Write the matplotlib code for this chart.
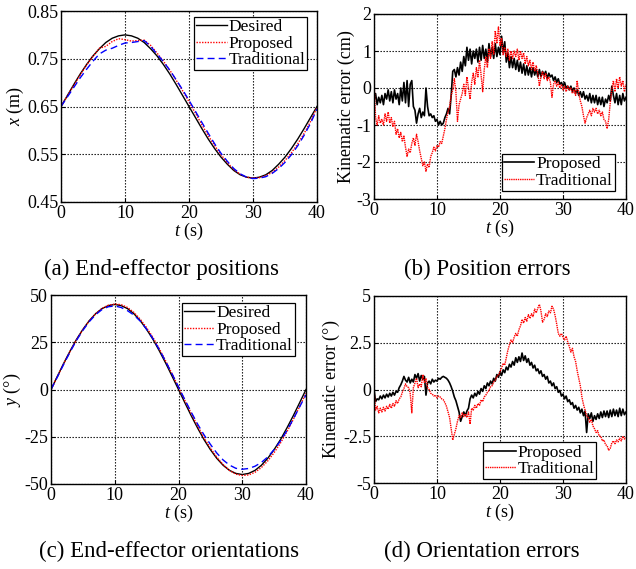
import numpy as np
import matplotlib
matplotlib.use("Agg")
import matplotlib.pyplot as plt

# === FONTS ===
plt.rcParams["font.family"] = ["Liberation Serif", "DejaVu Serif"]
plt.rcParams["mathtext.fontset"] = "custom"
plt.rcParams["mathtext.rm"] = "Liberation Serif"
plt.rcParams["mathtext.it"] = "Liberation Serif:italic"
plt.rcParams["font.size"] = 13

# === DATA: (a) positions, 1 s steps ===
t_pos = list(range(0, 41))
x_desired = [0.650, 0.673, 0.696, 0.718, 0.738, 0.756, 0.771, 0.784, 0.793, 0.798, 0.800,
             0.798, 0.793, 0.784, 0.771, 0.756, 0.738, 0.718, 0.696, 0.673, 0.650,
             0.627, 0.604, 0.582, 0.562, 0.544, 0.529, 0.516, 0.507, 0.502, 0.500,
             0.502, 0.507, 0.516, 0.529, 0.544, 0.562, 0.582, 0.604, 0.627, 0.650]
x_proposed = [0.650, 0.672, 0.694, 0.716, 0.737, 0.755, 0.772, 0.776, 0.786, 0.792, 0.790,
              0.787, 0.788, 0.789, 0.778, 0.762, 0.745, 0.726, 0.705, 0.683, 0.660,
              0.636, 0.612, 0.589, 0.568, 0.549, 0.532, 0.518, 0.508, 0.502, 0.500,
              0.501, 0.505, 0.512, 0.523, 0.537, 0.553, 0.572, 0.594, 0.619, 0.648]
x_traditional = [0.650, 0.670, 0.690, 0.710, 0.728, 0.745, 0.760, 0.768, 0.772, 0.778, 0.783,
                 0.784, 0.786, 0.788, 0.776, 0.760, 0.744, 0.726, 0.706, 0.685, 0.663,
                 0.640, 0.617, 0.594, 0.572, 0.552, 0.535, 0.520, 0.509, 0.502, 0.499,
                 0.500, 0.503, 0.510, 0.520, 0.533, 0.549, 0.568, 0.590, 0.615, 0.645]

# === DATA: (c) orientations, 1 s steps ===
y_desired = [0, 7.0, 13.9, 20.4, 26.5, 31.8, 36.4, 40.1, 42.8, 44.4, 45.0,
             44.4, 42.8, 40.1, 36.4, 31.8, 26.5, 20.4, 13.9, 7.0, 0,
             -7.0, -13.9, -20.4, -26.5, -31.8, -36.4, -40.1, -42.8, -44.4, -45.0,
             -44.4, -42.8, -40.1, -36.4, -31.8, -26.5, -20.4, -13.9, -7.0, 0]
y_proposed = [0, 6.8, 13.7, 20.2, 26.3, 31.7, 36.3, 40.1, 42.9, 44.6, 45.2,
              44.9, 43.4, 40.8, 37.2, 32.7, 27.5, 21.5, 15.0, 8.2, 1.2,
              -5.8, -12.7, -19.3, -25.5, -31.0, -35.8, -39.7, -42.8, -44.8, -45.5,
              -45.2, -43.8, -41.3, -37.8, -33.4, -28.3, -22.4, -15.9, -9.0, -2.0]
y_traditional = [0, 6.6, 13.4, 19.9, 26.0, 31.3, 35.9, 39.6, 42.3, 43.8, 44.2,
                 43.4, 41.7, 39.4, 36.2, 31.9, 26.9, 21.1, 14.8, 8.2, 1.4,
                 -5.4, -12.0, -18.3, -24.0, -29.0, -33.6, -37.3, -40.0, -41.7, -42.2,
                 -41.8, -40.6, -38.6, -35.7, -31.8, -27.2, -21.8, -15.7, -9.2, -2.8]

# === DATA: (b) position errors (cm), 0.25 s steps ===
t_err = [i * 0.25 for i in range(161)]
pos_err_proposed = [
    -0.35, -0.15, -0.45, -0.25, -0.40, -0.20, -0.45, -0.15, -0.30, -0.05, -0.35, -0.10,
    -0.40, -0.05, -0.30, -0.15, -0.45, 0.00, -0.35, 0.15, -0.40, 0.20, -0.50, 0.10,
    0.20, -0.50, -0.60, -0.95, -0.70, -0.55, -0.80, -0.65, -0.75, 0.00, -0.50, -0.75,
    -0.70, -0.80, -0.75, -0.90, -0.85, -1.00, -0.90, -1.00, -0.95, -0.80, -0.70, -0.55,
    -0.70, -0.20, 0.45, 0.50, 0.30, 0.55, 0.35, 0.70, 0.45, 0.85, 0.60, 1.10,
    0.75, 1.05, 0.65, 1.00, 0.80, 1.05, 0.70, 1.10, 0.75, 1.15, 0.80, 1.05,
    0.70, 1.20, 0.85, 1.10, 0.80, 1.20, 0.85, 1.10, 0.90, 1.40, 0.95, 1.25,
    0.70, 0.95, 0.55, 0.85, 0.55, 0.80, 0.50, 0.75, 0.45, 0.70, 0.40, 0.65,
    0.35, 0.60, 0.35, 0.55, 0.30, 0.55, 0.35, 0.50, 0.30, 0.50, 0.30, 0.45,
    0.35, 0.45, 0.25, 0.40, 0.30, 0.35, 0.20, 0.30, 0.15, 0.25, 0.10, 0.15,
    0.05, 0.15, 0.00, 0.05, -0.05, 0.05, -0.10, 0.00, -0.15, -0.05, -0.20, -0.10,
    -0.25, -0.10, -0.30, -0.20, -0.35, -0.15, -0.40, -0.20, -0.40, -0.20, -0.45, -0.25,
    -0.45, -0.25, -0.50, -0.30, -0.40, -0.20, -0.35, 0.05, -0.20, -0.40, -0.15, -0.45,
    -0.20, -0.45, -0.15, -0.35, -0.25]
pos_err_traditional = [
    0.20, -0.80, -1.00, -0.75, -0.95, -0.85, -1.00, -0.70, -0.90, -0.65, -0.95, -0.80,
    -1.05, -0.90, -1.25, -1.10, -1.35, -1.20, -1.45, -1.30, -1.60, -1.85, -1.65, -1.75,
    -1.50, -1.35, -1.55, -1.25, -1.45, -1.70, -1.90, -2.10, -2.00, -2.25, -2.05, -2.15,
    -1.85, -1.75, -1.60, -1.70, -1.55, -1.60, -1.45, -1.50, -1.30, -1.10, -0.85, -0.65,
    -0.50, -0.20, -0.05, 0.25, -0.10, -0.90, -0.45, -0.30, -0.15, 0.10, -0.20, 0.30,
    0.00, -0.30, 0.15, 0.40, 0.10, 0.55, 0.30, 0.75, 0.35, -0.10, 0.50, 0.85,
    0.55, 1.05, 0.80, 1.25, 0.90, 1.55, 1.20, 1.65, 1.15, 1.35, 0.90, 1.10,
    0.85, 1.05, 0.75, 1.00, 0.80, 1.00, 0.85, 1.05, 0.75, 1.00, 0.80, 0.95,
    0.65, 0.85, 0.60, 0.75, 0.50, 0.70, 0.45, 0.60, 0.40, 0.05, 0.30, 0.45,
    0.25, 0.40, 0.20, 0.30, 0.15, -0.25, 0.10, 0.20, 0.05, 0.15, 0.00, 0.10,
    -0.05, 0.05, -0.10, 0.05, -0.05, 0.00, -0.15, -0.05, -0.20, 0.20, -0.15, -0.35,
    -0.50, -0.75, -0.95, -0.80, -0.70, -0.60, -0.75, -0.55, -0.65, -0.55, -0.70, -0.60,
    -0.75, -0.65, -0.85, -0.90, -1.10, -0.85, -0.40, -0.05, 0.20, -0.10, 0.25, 0.00,
    0.30, 0.05, 0.20, -0.10, 0.10]

# === DATA: (d) orientation errors (deg), 0.25 s steps ===
ori_err_proposed = [
    0.00, -0.65, -0.50, -0.55, -0.35, -0.50, -0.30, -0.45, -0.25, -0.40, -0.20, -0.35,
    -0.15, -0.30, -0.10, -0.15, 0.10, 0.25, 0.45, 0.70, 0.50, 0.40, 0.65, 0.35,
    0.55, 0.40, 0.80, 0.60, 0.85, 0.45, 0.75, 0.55, 0.70, -0.30, 0.35, 0.45,
    0.30, 0.55, 0.40, 0.50, 0.45, 0.60, 0.55, 0.65, 0.70, 0.65, 0.60, 0.50,
    0.35, 0.15, -0.10, -0.40, -0.60, -0.90, -1.20, -1.70, -1.45, -1.20, -1.40, -1.15,
    -1.00, -0.50, -0.30, -0.45, -0.20, -0.35, -0.10, -0.25, 0.05, -0.10, 0.20, 0.05,
    0.35, 0.20, 0.45, 0.30, 0.60, 0.45, 0.80, 0.65, 0.95, 0.75, 1.05, 0.90,
    1.20, 1.05, 1.35, 1.20, 1.50, 1.30, 1.70, 1.45, 1.75, 1.50, 1.95, 1.55,
    1.80, 1.45, 1.65, 1.30, 1.45, 1.15, 1.30, 1.00, 1.10, 0.85, 1.00, 0.70,
    0.80, 0.55, 0.70, 0.35, 0.45, 0.20, 0.35, 0.05, 0.15, -0.15, -0.05, -0.35,
    -0.25, -0.50, -0.35, -0.65, -0.55, -0.80, -0.70, -1.00, -0.85, -1.10, -0.95, -1.25,
    -1.05, -1.40, -1.15, -2.30, -1.30, -1.55, -1.25, -1.70, -1.40, -1.60, -1.30, -1.55,
    -1.20, -1.50, -1.15, -1.45, -1.15, -1.50, -1.10, -1.45, -1.05, -1.40, -1.10, -1.45,
    -1.00, -1.40, -1.05, -1.35, -1.20]
ori_err_traditional = [
    0.00, -1.10, -0.90, -1.25, -1.00, -1.20, -0.95, -1.15, -0.90, -1.05, -0.80, -1.00,
    -0.75, -0.90, -0.60, -0.75, -0.50, -0.40, -0.15, 0.05, 0.30, 0.15, 0.10, -0.20,
    -1.25, 0.10, 0.35, 0.60, 0.10, 0.30, 0.15, 0.80, 0.35, 0.60, 0.10, 0.00,
    -0.20, -0.25, -0.35, -0.30, -0.45, -0.35, -0.40, -0.50, -0.55, -0.70, -0.90, -1.20,
    -1.50, -2.10, -2.70, -2.40, -2.10, -1.70, -1.40, -1.50, -1.25, -1.45, -1.30, -1.50,
    -1.20, -1.85, -1.00, -1.10, -0.85, -1.00, -0.75, -0.85, -0.55, -0.65, -0.40, -0.30,
    -0.15, -0.05, 0.15, 0.20, 0.40, 0.50, 0.70, 0.75, 0.95, 1.15, 1.40, 1.30,
    1.70, 2.10, 2.40, 2.65, 2.50, 2.80, 3.00, 2.85, 3.20, 3.40, 3.75, 3.55,
    3.85, 3.65, 4.00, 3.80, 4.05, 3.90, 4.30, 4.10, 4.35, 4.55, 4.20, 3.60,
    3.75, 4.05, 3.90, 4.20, 4.10, 4.45, 4.30, 3.95, 3.50, 3.00, 2.85, 3.00,
    2.80, 2.65, 2.85, 2.55, 2.30, 2.00, 2.20, 1.75, 1.50, 1.00, 0.60, 0.20,
    -0.40, -0.80, -1.10, -1.40, -1.50, -1.75, -1.60, -1.95, -2.10, -2.30, -2.20, -2.50,
    -2.50, -2.75, -2.70, -2.95, -3.00, -3.25, -3.15, -2.85, -2.75, -2.90, -2.70, -2.80,
    -2.60, -2.75, -2.50, -2.65, -2.55]

# === FIGURE ===
W, H = 636, 569
fig = plt.figure(figsize=(W / 100, H / 100), dpi=100)


def box(left, top, right, bottom):
    return [left / W, 1 - bottom / H, (right - left) / W, (bottom - top) / H]


def style(ax, ylim, yticks, yticklabels, ylabel):
    ax.set_xlim(0, 40)
    ax.set_xticks([0, 10, 20, 30, 40])
    ax.set_ylim(*ylim)
    ax.set_yticks(yticks)
    ax.set_yticklabels(yticklabels)
    ax.set_xlabel(r"$t$ (s)", fontsize=13, labelpad=-1)
    ax.set_ylabel(ylabel, fontsize=13, labelpad=1)
    ax.grid(True, color="black", linestyle=(0, (1.2, 1.5)), linewidth=0.8)
    ax.tick_params(direction="in", length=3, labelsize=13, pad=2)
    for s in ax.spines.values():
        s.set_linewidth(1.0)


def legend(ax, loc, anchor):
    leg = ax.legend(loc=loc, bbox_to_anchor=anchor, fancybox=False, edgecolor="black",
                    framealpha=1, fontsize=12.5, handlelength=1.75, handletextpad=0.1,
                    borderpad=0.12, labelspacing=0.02, borderaxespad=0)
    leg.get_frame().set_linewidth(0.9)


# (a)
ax = fig.add_axes(box(61, 11, 317, 202))
ax.plot(t_pos, x_desired, color="black", lw=1.0, label="Desired")
ax.plot(t_pos, x_proposed, color="red", lw=1.0, linestyle=(0, (1, 1)), label="Proposed")
ax.plot(t_pos, x_traditional, color="blue", lw=1.0, linestyle=(0, (5, 3)), label="Traditional")
style(ax, (0.45, 0.85), [0.45, 0.55, 0.65, 0.75, 0.85],
      ["0.45", "0.55", "0.65", "0.75", "0.85"], r"$x$ (m)")
legend(ax, "upper right", (0.962, 0.968))

# (b)
ax = fig.add_axes(box(374, 14, 626, 199))
ax.plot(t_err, pos_err_proposed, color="black", lw=1.2, label="Proposed")
ax.plot(t_err, pos_err_traditional, color="red", lw=1.0, linestyle=(0, (1, 0.6)), label="Traditional")
style(ax, (-3, 2), [-3, -2, -1, 0, 1, 2], ["-3", "-2", "-1", "0", "1", "2"],
      "Kinematic error (cm)")
legend(ax, "lower right", (0.956, 0.043))

# (c)
ax = fig.add_axes(box(51, 295, 306, 484))
ax.plot(t_pos, y_desired, color="black", lw=1.0, label="Desired")
ax.plot(t_pos, y_proposed, color="red", lw=1.0, linestyle=(0, (1, 1)), label="Proposed")
ax.plot(t_pos, y_traditional, color="blue", lw=1.0, linestyle=(0, (5, 3)), label="Traditional")
style(ax, (-50, 50), [-50, -25, 0, 25, 50], ["-50", "-25", "0", "25", "50"],
      r"$y$ ($\degree$)")
legend(ax, "upper right", (0.957, 0.958))

# (d)
ax = fig.add_axes(box(374, 296, 626, 483))
ax.plot(t_err, ori_err_proposed, color="black", lw=1.2, label="Proposed")
ax.plot(t_err, ori_err_traditional, color="red", lw=1.0, linestyle=(0, (1, 0.6)), label="Traditional")
style(ax, (-5, 5), [-5, -2.5, 0, 2.5, 5], ["-5", "-2.5", "0", "2.5", "5"],
      r"Kinematic error ($\degree$)")
legend(ax, "lower left", (0.433, 0.02))

# captions
fig.text(161 / W, 1 - 269 / H, "(a) End-effector positions", ha="center", va="center", fontsize=16.5)
fig.text(487 / W, 1 - 269 / H, "(b) Position errors", ha="center", va="center", fontsize=16.5)
fig.text(169 / W, 1 - 551 / H, "(c) End-effector orientations", ha="center", va="center", fontsize=16.5)
fig.text(482 / W, 1 - 551 / H, "(d) Orientation errors", ha="center", va="center", fontsize=16.5)

fig.savefig("out.png", dpi=100)
